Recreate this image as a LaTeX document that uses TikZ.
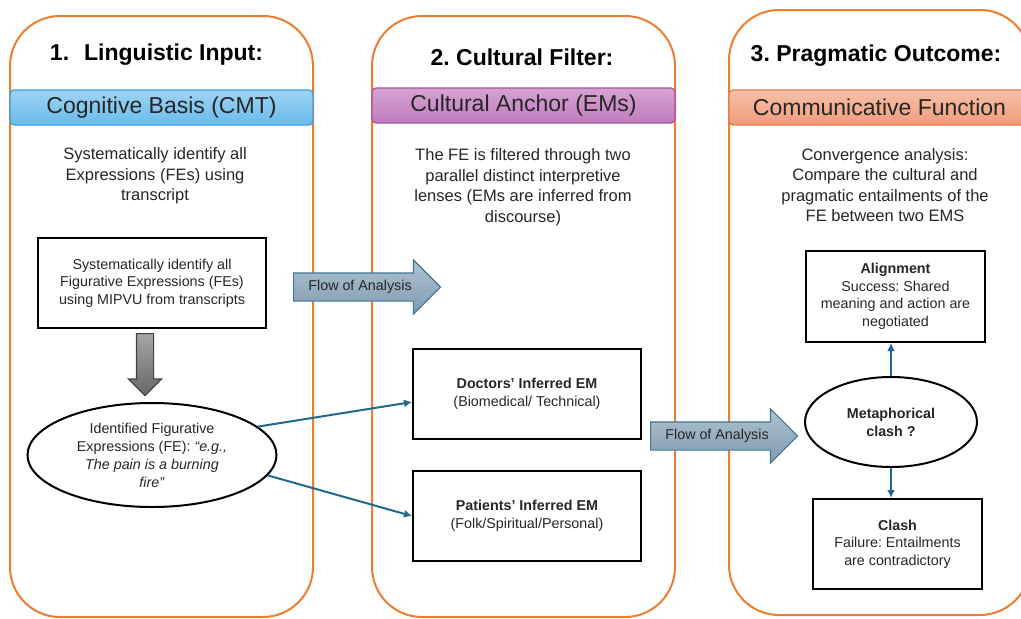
\documentclass[tikz,border=0pt]{standalone}
\usepackage{fontspec}
\setmainfont{Liberation Sans}
\usepackage{tikz}
\usetikzlibrary{positioning,shapes.geometric,shapes.arrows,arrows.meta}
\definecolor{panelorange}{HTML}{ED7D31}
\definecolor{linkblue}{HTML}{22688E}
\definecolor{cmttop}{HTML}{9ED3F5}
\definecolor{cmtbot}{HTML}{6ABBE9}
\definecolor{cmtedge}{HTML}{3E9FDB}
\definecolor{emstop}{HTML}{D6A3D3}
\definecolor{emsbot}{HTML}{C07BBD}
\definecolor{emsedge}{HTML}{A5519F}
\definecolor{functop}{HTML}{F7C1A8}
\definecolor{funcbot}{HTML}{EF9B7A}
\definecolor{funcedge}{HTML}{E57D55}
\definecolor{flowtop}{HTML}{AFC3D1}
\definecolor{flowbot}{HTML}{7F9AAF}
\definecolor{flowedge}{HTML}{41779A}
\definecolor{bodytext}{HTML}{262626}
\frenchspacing

\begin{document}
\begin{tikzpicture}[x=1pt,y=-1pt,
    panel/.style={draw=panelorange,line width=2pt,rounded corners=50pt},
    title/.style={anchor=base,font=\fontsize{23}{28}\selectfont\bfseries},
    band/.style={draw,line width=1.2pt,rounded corners=4pt,minimum height=35pt,font=\fontsize{23}{28}\selectfont,text=bodytext},
    desc/.style={align=center,text=bodytext,font=\fontsize{16.5}{20.5}\selectfont},
    box/.style={draw,line width=2pt,align=center,text=bodytext,font=\fontsize{14.3}{17.5}\selectfont},
    oval/.style={ellipse,draw,line width=2pt,inner sep=0pt,align=center,text=bodytext,font=\fontsize{14.3}{18}\selectfont},
    flow/.style={single arrow,single arrow head extend=13pt,anchor=tail,draw=flowedge,line width=1.2pt,top color=flowtop,bottom color=flowbot,minimum height=147pt,inner ysep=7pt,text height=10pt,text depth=3pt,text=bodytext,font=\fontsize{14.3}{17}\selectfont},
    link/.style={draw=linkblue,line width=2pt,-{Latex[length=8pt,width=8pt]}}]
  \useasboundingbox (0,0) rectangle (1021,619);
  \draw[panel] (10,16) rectangle (313,617);
  \draw[panel] (372,16) rectangle (675,617);
  \draw[panel] (729,10) rectangle (1030,615);

  \node[title] (input) at (156.5,60) {1.\hspace{15pt}Linguistic Input:};
  \node[title] (filter) at (522,65) {2. Cultural Filter:};
  \node[title] (outcome) at (876,61) {3. Pragmatic Outcome:};

  \node[band,minimum width=303pt,draw=cmtedge,top color=cmttop,bottom color=cmtbot] (cmt) at (161.5,107.5) {Cognitive Basis (CMT)};
  \node[band,minimum width=303pt,draw=emsedge,top color=emstop,bottom color=emsbot] (ems) at (523.5,105.5) {Cultural Anchor (EMs)};
  \node[band,minimum width=301pt,draw=funcedge,top color=functop,bottom color=funcbot] (func) at (879.5,107.5) {Communicative Function};

  \node[desc] (cmtdesc) at (155,176) {Systematically identify all\\Expressions (FEs) using\\transcript};
  \node[desc] (emsdesc) at (523,187) {The FE is filtered through two\\parallel distinct interpretive\\lenses (EMs are inferred from\\discourse)};
  \node[desc] (funcdesc) at (885,185) {Convergence analysis:\\Compare the cultural and\\pragmatic entailments of the\\FE between two EMS};

  \node[box,minimum width=228pt,minimum height=90pt] (mipvu) at (152,283) {Systematically identify all\\Figurative Expressions (FEs)\\using MIPVU from transcripts};
  \node[single arrow,shape border rotate=270,anchor=tail,single arrow head extend=8pt,inner sep=8pt,minimum height=62pt,draw=black!75,line width=1.2pt,top color=black!35,bottom color=black!60] (down) at (145,333) {};
  \node[oval,minimum width=249pt,minimum height=104pt] (fe) at (152,455) {Identified Figurative\\Expressions (FE): \textit{“e.g.,}\\\textit{The pain is a burning}\\\textit{fire”}};

  \node[box,minimum width=228pt,minimum height=90pt] (doctors) at (527,394) {\textbf{Doctors’ Inferred EM}\\(Biomedical/ Technical)};
  \node[box,minimum width=228pt,minimum height=90pt,below=30pt of doctors] (patients) {\textbf{Patients’ Inferred EM}\\(Folk/Spiritual/Personal)};

  \node[flow] (flowa) at (293,287) {Flow of Analysis};
  \node[flow] (flowb) at (650,436) {Flow of Analysis};

  \node[oval,minimum width=172pt,minimum height=90pt,font=\fontsize{14.3}{18}\selectfont\bfseries] (meta) at (891,422) {Metaphorical\\clash ?};
  \node[box,minimum width=179pt,minimum height=91pt] (align) at (895.5,296.5) {\textbf{Alignment}\\Success: Shared\\meaning and action are\\negotiated};
  \node[box,minimum width=169pt,minimum height=90pt] (clash) at (897.5,544) {\textbf{Clash}\\Failure: Entailments\\are contradictory};

  \draw[link] (fe.15) -- (doctors.184);
  \draw[link] (fe.-10) -- (patients.west);
  \draw[link] (meta.north) -- (meta.north |- align.south);
  \draw[link] (meta.south) -- (meta.south |- clash.north);
\end{tikzpicture}
\end{document}
